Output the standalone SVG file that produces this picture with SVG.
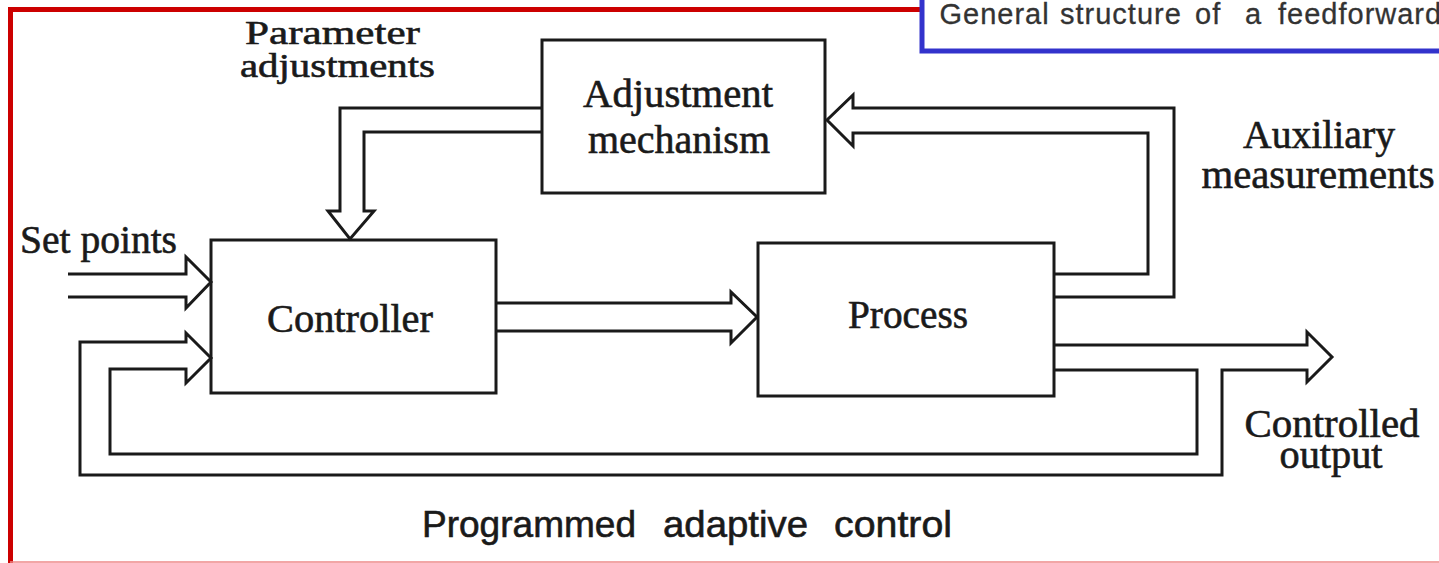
<svg xmlns="http://www.w3.org/2000/svg" width="1439" height="563" viewBox="0 0 1439 563">
<defs>
<style>
.box{fill:none;stroke:#1a1a1a;stroke-width:3}
.conn{fill:none;stroke:#1a1a1a;stroke-width:3;stroke-linejoin:miter}
.lbl{font-family:"Liberation Serif","Times New Roman",serif;font-size:40px;fill:#1a1a1a;stroke:#1a1a1a;stroke-width:0.6}
.mid{text-anchor:middle}
.cap{font-family:"Liberation Sans",Arial,sans-serif;font-size:29px;fill:#333;stroke:#333;stroke-width:0.3;letter-spacing:1px}
.bot{font-family:"Liberation Sans",Arial,sans-serif;font-size:37px;fill:#1a1a1a;stroke:#1a1a1a;stroke-width:0.6}
</style>
</defs>
<rect x="0" y="0" width="1439" height="563" fill="#ffffff"/>
<g id="frame">
<line x1="8" y1="9.5" x2="921" y2="9.5" stroke="#cc0000" stroke-width="5"/>
<line x1="10.5" y1="7" x2="10.5" y2="563" stroke="#cc0000" stroke-width="5"/>
<line x1="10" y1="562" x2="1439" y2="562" stroke="#ee8888" stroke-width="1.5"/>
</g>
<g id="caption">
<rect x="922" y="-10" width="540" height="61" fill="#ffffff" stroke="#3333cc" stroke-width="5"/>
<text class="cap" y="24"><tspan x="939.5">General</tspan> <tspan x="1060">structure</tspan> <tspan x="1195">of</tspan> <tspan x="1245">a</tspan> <tspan x="1278">feedforward</tspan></text>
</g>
<g id="connectors">
<path class="conn" d="M542,108 H340 V211 H328 L350,239 L374,211 H364 V132 H542"/>
<path class="conn" d="M1054,297 H1174 V108 H853 V95 L827,120 L853,146 V133 H1148 V274 H1054"/>
<path class="conn" d="M496,303 H731 V292 L757,317 L731,343 V331 H496"/>
<path class="conn" d="M1054,345 H1307 V332 L1332,357 L1307,382 V370 H1222 V475 H80 V342 H186 V333 L211,358 L186,383 V369 H110 V454 H1197 V370 H1054"/>
<path class="conn" d="M68,274 H186 V257 L211,282 L186,308 V297 H68"/>
</g>
<g id="adjustment">
<rect class="box" x="542" y="40" width="283" height="153"/>
<text class="lbl mid" x="678" y="107" textLength="190" lengthAdjust="spacingAndGlyphs">Adjustment</text>
<text class="lbl mid" x="679" y="153" textLength="182" lengthAdjust="spacingAndGlyphs">mechanism</text>
</g>
<g id="controller">
<rect class="box" x="211" y="240" width="285" height="153"/>
<text class="lbl mid" x="350" y="332" textLength="166" lengthAdjust="spacingAndGlyphs">Controller</text>
</g>
<g id="process">
<rect class="box" x="758" y="243" width="296" height="153"/>
<text class="lbl mid" x="908" y="328" textLength="120" lengthAdjust="spacingAndGlyphs">Process</text>
</g>
<g id="labels">
<text class="lbl" x="245" y="44" style="font-size:34px" textLength="175" lengthAdjust="spacingAndGlyphs">Parameter</text>
<text class="lbl" x="240" y="77" style="font-size:34px" textLength="195" lengthAdjust="spacingAndGlyphs">adjustments</text>
<text class="lbl" x="20" y="253" textLength="157" lengthAdjust="spacingAndGlyphs">Set points</text>
<text class="lbl mid" x="1319" y="148" textLength="152" lengthAdjust="spacingAndGlyphs">Auxiliary</text>
<text class="lbl mid" x="1318" y="188" textLength="233" lengthAdjust="spacingAndGlyphs">measurements</text>
<text class="lbl mid" x="1332" y="437" textLength="175" lengthAdjust="spacingAndGlyphs">Controlled</text>
<text class="lbl mid" x="1331" y="468" textLength="103" lengthAdjust="spacingAndGlyphs">output</text>
<text class="bot" y="537"><tspan x="422" textLength="214" lengthAdjust="spacingAndGlyphs">Programmed</tspan> <tspan x="663" textLength="145" lengthAdjust="spacingAndGlyphs">adaptive</tspan> <tspan x="834" textLength="118" lengthAdjust="spacingAndGlyphs">control</tspan></text>
</g>
</svg>
